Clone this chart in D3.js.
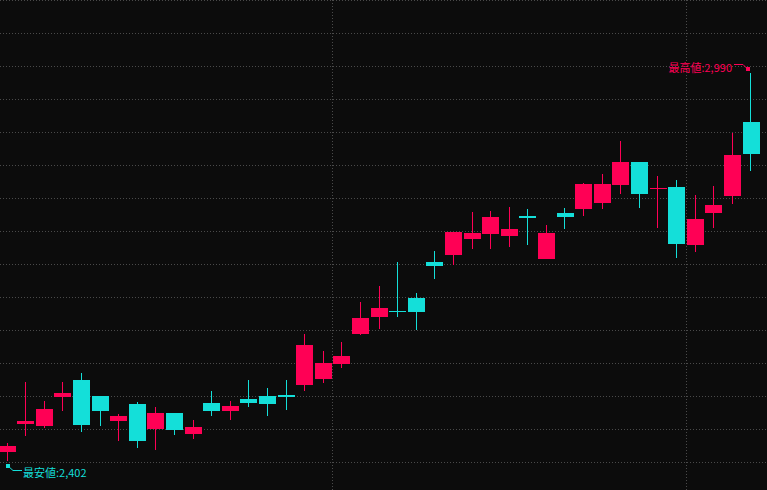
<!DOCTYPE html>
<html>
<head>
<meta charset="utf-8">
<script src="https://cdn.jsdelivr.net/npm/d3@7/dist/d3.min.js"></script>
<style>
  html, body { margin: 0; padding: 0; background: #0c0c0c; overflow: hidden; }
  #chart { width: 767px; height: 490px; }
</style>
</head>
<body>
<div id="chart"></div>
<script>
// daily candles, oldest first
const opens  = [2415, 2458, 2455, 2498, 2524, 2500, 2462, 2488, 2450, 2474, 2442,
                2489, 2477, 2495, 2500, 2501, 2517, 2526, 2548, 2594, 2620, 2629,
                2648, 2703, 2714, 2738, 2745, 2742, 2773, 2708, 2777, 2783, 2792,
                2820, 2855, 2814, 2817, 2729, 2777, 2803, 2915];
const highs  = [2429, 2521, 2492, 2521, 2535, 2500, 2473, 2491, 2483, 2474, 2464,
                2508, 2492, 2524, 2512, 2524, 2594, 2568, 2582, 2642, 2667, 2703,
                2656, 2720, 2749, 2779, 2780, 2786, 2783, 2759, 2785, 2823, 2836,
                2886, 2855, 2833, 2827, 2805, 2818, 2899, 2990];
const lows   = [2402, 2439, 2452, 2477, 2445, 2455, 2432, 2421, 2418, 2441, 2435,
                2470, 2464, 2483, 2470, 2479, 2508, 2520, 2542, 2592, 2602, 2620,
                2600, 2677, 2698, 2723, 2723, 2726, 2729, 2708, 2753, 2773, 2783,
                2806, 2785, 2755, 2709, 2718, 2755, 2791, 2841];
const closes = [2424, 2462, 2480, 2504, 2456, 2477, 2470, 2432, 2474, 2448, 2453,
                2477, 2485, 2489, 2488, 2498, 2577, 2550, 2561, 2618, 2633, 2627,
                2627, 2697, 2749, 2747, 2771, 2753, 2770, 2747, 2771, 2821, 2821,
                2855, 2806, 2815, 2730, 2768, 2789, 2865, 2867];

// price levels for the dotted grid, and candles where a new month starts
const gridLevels = [2400, 2450, 2500, 2550, 2600, 2650, 2700, 2750, 2800, 2850, 2900, 2950, 3000, 3050, 3100];
const monthStarts = [18, 37];

const upColor = "#ff0055", downColor = "#14dfd9";
const width = 767, height = 490;

const svg = d3.select("#chart").append("svg")
    .attr("width", width)
    .attr("height", height);

svg.append("rect")
    .attr("width", width)
    .attr("height", height)
    .attr("fill", "#0c0c0c");

const x = d3.scaleBand()
    .domain(d3.range(opens.length))
    .range([-2.3, 760.3])
    .paddingInner(0.09)
    .paddingOuter(0.045);

const y = d3.scaleLinear()
    .domain([2400, 3000])
    .range([462, 66]);

const cx = i => x(i) + x.bandwidth() / 2;

// horizontal grid
svg.append("g").selectAll("line")
    .data(gridLevels)
    .join("line")
    .attr("x1", 0).attr("x2", width)
    .attr("y1", d => Math.round(y(d)) + 0.5)
    .attr("y2", d => Math.round(y(d)) + 0.5)
    .attr("stroke", "#4a4a4a")
    .attr("stroke-dasharray", "1,2");

// month dividers
svg.append("g").selectAll("line")
    .data(monthStarts)
    .join("line")
    .attr("x1", d => Math.floor((cx(d - 1) + cx(d)) / 2 + 0.2) + 0.5)
    .attr("x2", d => Math.floor((cx(d - 1) + cx(d)) / 2 + 0.2) + 0.5)
    .attr("y1", 0).attr("y2", height)
    .attr("stroke", "#4a4a4a")
    .attr("stroke-dasharray", "1,2");

const candles = svg.append("g")
    .selectAll("g")
    .data(d3.range(opens.length))
    .join("g")
    .attr("shape-rendering", "crispEdges");

const col = i => closes[i] >= opens[i] ? upColor : downColor;

candles.append("line")
    .attr("x1", i => Math.floor(cx(i)) + 0.5)
    .attr("x2", i => Math.floor(cx(i)) + 0.5)
    .attr("y1", i => Math.round(y(highs[i])))
    .attr("y2", i => Math.round(y(lows[i])))
    .attr("stroke", col);

candles.append("rect")
    .attr("x", i => Math.round(x(i)))
    .attr("width", Math.round(x.bandwidth()))
    .attr("y", i => Math.round(y(Math.max(opens[i], closes[i]))))
    .attr("height", i => Math.max(1, Math.round(y(Math.min(opens[i], closes[i]))) - Math.round(y(Math.max(opens[i], closes[i])))))
    .attr("fill", col);

// high / low markers
const hi = d3.maxIndex(highs), lo = d3.minIndex(lows);
const fmt = d3.format(",");
const font = "'Noto Sans CJK JP', sans-serif";

const hx = Math.floor(cx(hi)), hy = Math.round(y(highs[hi]));
svg.append("path")
    .attr("d", `M${hx - 16},${hy - 8.5}H${hx - 7}L${hx - 2},${hy - 3.5}`)
    .attr("fill", "none")
    .attr("stroke", upColor);
svg.append("rect")
    .attr("x", hx - 4).attr("y", hy - 6)
    .attr("width", 4).attr("height", 4)
    .attr("fill", upColor);
svg.append("text")
    .attr("x", hx - 18).attr("y", hy - 1.5)
    .attr("text-anchor", "end")
    .attr("font-family", font)
    .attr("font-size", 11)
    .attr("fill", upColor)
    .text("最高値:" + fmt(highs[hi]));

const lx = Math.floor(cx(lo)), ly = Math.round(y(lows[lo]));
svg.append("path")
    .attr("d", `M${lx + 1},${ly + 5}L${lx + 6},${ly + 9.5}H${lx + 15}`)
    .attr("fill", "none")
    .attr("stroke", downColor);
svg.append("rect")
    .attr("x", lx - 1).attr("y", ly + 3)
    .attr("width", 4).attr("height", 4)
    .attr("fill", downColor);
svg.append("text")
    .attr("x", lx + 16).attr("y", ly + 15.5)
    .attr("font-family", font)
    .attr("font-size", 11)
    .attr("fill", downColor)
    .text("最安値:" + fmt(lows[lo]));
</script>
</body>
</html>
